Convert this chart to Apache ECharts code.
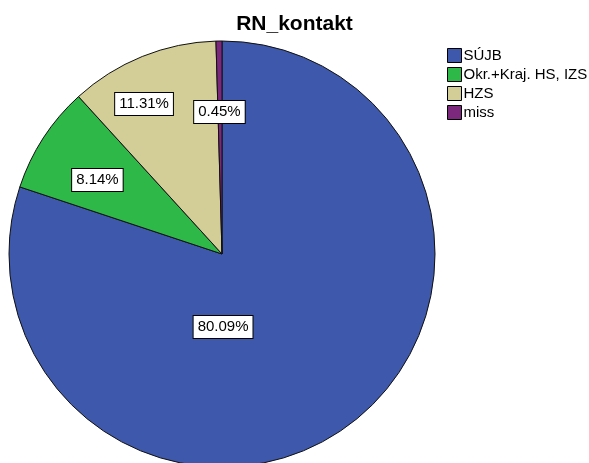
<!DOCTYPE html>
<html lang="cs">
  <head>
    <meta charset="UTF-8" />
    <title>RN_kontakt</title>
    <script src="https://cdn.jsdelivr.net/npm/echarts@6/dist/echarts.min.js"></script>
    <style>
      html, body { margin: 0; padding: 0; background: #fff; }
    </style>
  </head>
  <body>
    <div id="chart" style="width: 589px; height: 463px"></div>

    <script>
      var categories = ["SÚJB", "Okr.+Kraj. HS, IZS", "HZS", "miss"]
      var percents = [80.09, 8.14, 11.31, 0.45]
      var colors = ["#3E58AC", "#2EB848", "#D3CE97", "#7C287D"]

      // kde SPSS kreslí popisky (násobky poloměru od středu)
      var labelOffsets = [
        [0.005, 0.343],
        [-0.585, -0.347],
        [-0.366, -0.704],
        [-0.012, -0.667],
      ]
      var cx = 222, cy = 254, r = 213

      var pieData = []
      for (let i = 0; i < categories.length; i++) {
        pieData.push({
          name: categories[i],
          value: percents[i],
          itemStyle: { color: colors[i] },
        })
      }

      var chart = echarts.init(document.getElementById("chart"))
      var option = {
        animation: false,
        backgroundColor: "#fff",
        title: {
          text: "RN_kontakt",
          left: "center",
          top: 9,
          textStyle: {
            fontFamily: "Liberation Sans, Arial, sans-serif",
            fontSize: 21,
            fontWeight: "bold",
            color: "#000",
          },
        },
        legend: {
          orient: "vertical",
          left: 442,
          top: 43,
          icon: "rect",
          itemWidth: 14,
          itemHeight: 14,
          itemGap: 4,
          data: categories,
          itemStyle: { borderColor: "#000", borderWidth: 1 },
          textStyle: {
            fontFamily: "Liberation Sans, Arial, sans-serif",
            fontSize: 15,
            lineHeight: 15,
            color: "#000",
            padding: [0, 0, 0, -3],
          },
        },
        series: [
          {
            type: "pie",
            center: [cx, cy],
            radius: r,
            startAngle: 90,
            clockwise: true,
            avoidLabelOverlap: false,
            data: pieData,
            itemStyle: { borderColor: "#111", borderWidth: 1 },
            emphasis: { disabled: true },
            labelLine: { show: false },
            label: {
              show: true,
              position: "inside",
              formatter: function (p) {
                return p.value.toFixed(2) + "%"
              },
              fontFamily: "Liberation Sans, Arial, sans-serif",
              fontSize: 15,
              color: "#000",
              backgroundColor: "#fff",
              borderColor: "#000",
              borderWidth: 1,
              padding: [4, 4, 3, 4],
            },
            labelLayout: function (params) {
              var o = labelOffsets[params.dataIndex]
              return {
                x: cx + o[0] * r,
                y: cy + o[1] * r,
                align: "center",
                verticalAlign: "middle",
              }
            },
          },
        ],
      }
      chart.setOption(option)
    </script>
  </body>
</html>
